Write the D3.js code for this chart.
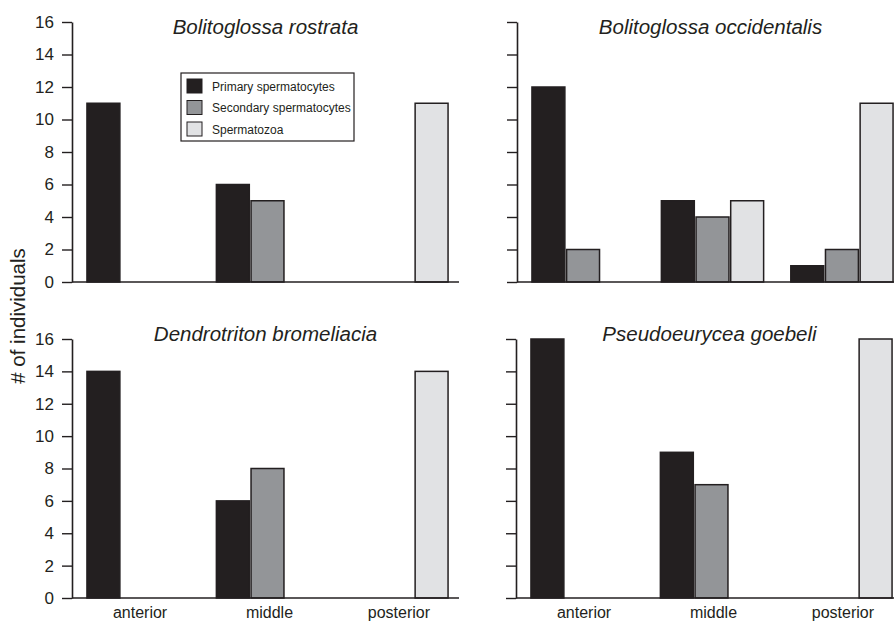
<!DOCTYPE html>
<html>
<head>
<meta charset="utf-8">
<script src="https://cdn.jsdelivr.net/npm/d3@7"></script>
<style>
  html, body { margin: 0; padding: 0; background: #fff; }
  svg { display: block; font-family: "Liberation Sans", Arial, Helvetica, sans-serif; }
</style>
</head>
<body>
<svg id="chart" width="894" height="622"></svg>
<script>
// ---- data ----
const regions = ["anterior", "middle", "posterior"];
const seriesNames = ["Primary spermatocytes", "Secondary spermatocytes", "Spermatozoa"];
const species = ["Bolitoglossa rostrata", "Bolitoglossa occidentalis", "Dendrotriton bromeliacia", "Pseudoeurycea goebeli"];
const yTicks = [0, 2, 4, 6, 8, 10, 12, 14, 16];

const rostrataPrimary = [11, 6, 0];
const rostrataSecondary = [0, 5, 0];
const rostrataSperm = [0, 0, 11];

const occidentalisPrimary = [12, 5, 1];
const occidentalisSecondary = [2, 4, 2];
const occidentalisSperm = [0, 5, 11];

const bromeliaciaPrimary = [14, 6, 0];
const bromeliaciaSecondary = [0, 8, 0];
const bromeliaciaSperm = [0, 0, 14];

const goebeliPrimary = [16, 9, 0];
const goebeliSecondary = [0, 7, 0];
const goebeliSperm = [0, 0, 16];

const panelData = [
  [rostrataPrimary, rostrataSecondary, rostrataSperm],
  [occidentalisPrimary, occidentalisSecondary, occidentalisSperm],
  [bromeliaciaPrimary, bromeliaciaSecondary, bromeliaciaSperm],
  [goebeliPrimary, goebeliSecondary, goebeliSperm]
];

// ---- layout / style ----
const ink = "#231f20";
const fills = ["#231f20", "#939598", "#e1e2e4"];
const panels = [
  { x: 72,  top: 22,  bottom: 282, titleY: 34,  labels: true,  xLabels: false },
  { x: 517, top: 22,  bottom: 282, titleY: 34,  labels: false, xLabels: false },
  { x: 72,  top: 339, bottom: 598, titleY: 341, labels: true,  xLabels: true },
  { x: 516, top: 339, bottom: 598, titleY: 341, labels: false, xLabels: true }
];
const panelWidth = 387;

const svg = d3.select("#chart");

panels.forEach((p, i) => {
  const g = svg.append("g");
  const y = d3.scaleLinear().domain([0, 16]).range([p.bottom, p.top]);
  const x0 = d3.scaleBand().domain(regions).range([p.x + 2, p.x + 2 + panelWidth])
    .paddingInner(0.21).paddingOuter(0.1);
  const x1 = d3.scaleBand().domain(seriesNames).range([0, x0.bandwidth()]).paddingInner(0.05);

  // bars
  const rows = [];
  regions.forEach((r, ri) => {
    seriesNames.forEach((s, si) => {
      rows.push({ region: r, series: s, si: si, value: panelData[i][si][ri] });
    });
  });
  g.selectAll("rect.bar").data(rows).enter().append("rect")
    .attr("class", "bar")
    .attr("x", d => x0(d.region) + x1(d.series))
    .attr("width", x1.bandwidth())
    .attr("y", d => y(d.value))
    .attr("height", d => y(0) - y(d.value))
    .attr("fill", d => fills[d.si])
    .attr("stroke", ink)
    .attr("stroke-width", 1.5);

  // x baseline
  g.append("line")
    .attr("x1", p.x).attr("x2", p.x + panelWidth)
    .attr("y1", y(0)).attr("y2", y(0))
    .attr("stroke", ink).attr("stroke-width", 1.6);

  // y axis
  const axis = d3.axisLeft(y).tickValues(yTicks).tickSize(10).tickSizeOuter(0).tickPadding(8)
    .tickFormat(p.labels ? d3.format("d") : () => "");
  const ag = g.append("g").attr("transform", `translate(${p.x},0)`).call(axis);
  ag.select(".domain").attr("stroke", ink).attr("stroke-width", 1.6);
  ag.selectAll(".tick line").attr("stroke", ink).attr("stroke-width", 1.4);
  ag.selectAll(".tick text").attr("fill", ink).style("font-size", "17px")
    .style("font-family", "'Liberation Sans', Arial, sans-serif");

  // title
  g.append("text")
    .attr("x", p.x + panelWidth / 2).attr("y", p.titleY)
    .attr("text-anchor", "middle")
    .attr("font-style", "italic")
    .attr("font-size", 20.5)
    .attr("fill", ink)
    .text(species[i]);

  // x labels
  if (p.xLabels) {
    g.selectAll("text.xl").data(regions).enter().append("text")
      .attr("class", "xl")
      .attr("x", d => x0(d) + x0.bandwidth() / 2 + 2)
      .attr("y", 618)
      .attr("text-anchor", "middle")
      .attr("font-size", 16)
      .attr("fill", ink)
      .text(d => d);
  }
});

// y axis title
svg.append("text")
  .attr("transform", "translate(25,316) rotate(-90)")
  .attr("text-anchor", "middle")
  .attr("font-size", 20.5)
  .attr("fill", ink)
  .text("# of individuals");

// legend
const lg = svg.append("g").attr("transform", "translate(181,73)");
lg.append("rect").attr("x", 0).attr("y", 0).attr("width", 173).attr("height", 68)
  .attr("fill", "#fff").attr("stroke", ink).attr("stroke-width", 1.2);
seriesNames.forEach((s, si) => {
  const ry = 6 + si * 21.5;
  lg.append("rect").attr("x", 6).attr("y", ry).attr("width", 15).attr("height", 14)
    .attr("fill", fills[si]).attr("stroke", ink).attr("stroke-width", 1);
  lg.append("text").attr("x", 31).attr("y", ry + 11.5)
    .attr("font-size", 12).attr("fill", ink).text(s);
});
</script>
</body>
</html>
